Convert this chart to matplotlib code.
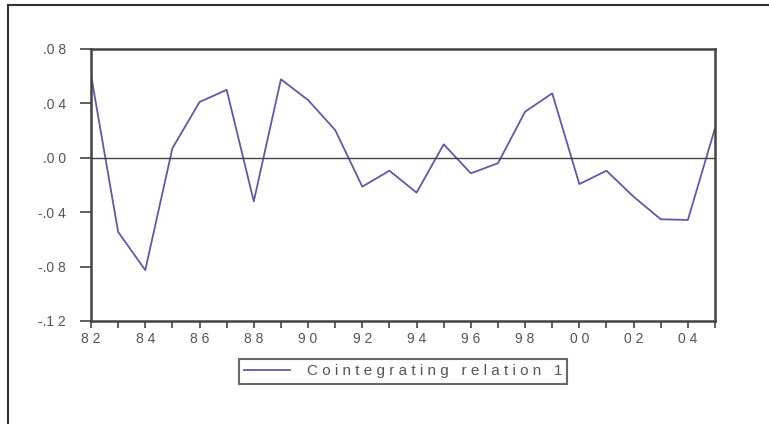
import matplotlib
matplotlib.use("Agg")
import matplotlib.pyplot as plt
from matplotlib.lines import Line2D

years = list(range(1982, 2006))
coint = [0.061, -0.0545, -0.0826, 0.007, 0.041, 0.050, -0.032, 0.0577,
         0.0425, 0.0204, -0.0212, -0.0095, -0.0256, 0.0099, -0.0114, -0.004,
         0.0339, 0.0474, -0.0193, -0.0095, -0.0286, -0.0452, -0.0457, 0.0217]
ytick_vals = [0.08, 0.04, 0.00, -0.04, -0.08, -0.12]
ytick_labels = [".0 8", ".0 4", ".0 0", "-.0 4", "-.0 8", "-.1 2"]
xtick_years = list(range(1982, 2006, 2))
xtick_labels = ["8 2", "8 4", "8 6", "8 8", "9 0", "9 2", "9 4", "9 6", "9 8", "0 0", "0 2", "0 4"]
legend_label = "C o i n t e g r a t i n g   r e l a t i o n   1"

plt.rcParams['font.family'] = ['Liberation Sans', 'DejaVu Sans']

W, H = 769, 424
fig = plt.figure(figsize=(W / 100, H / 100), dpi=100)
fig.patch.set_facecolor("white")

# outer frame (left and top visible)
fig.add_artist(Line2D([8 / W, 8 / W], [0, 1 - 5 / H], transform=fig.transFigure,
                      color="#333333", lw=1.5))
fig.add_artist(Line2D([8 / W, 1], [1 - 5 / H, 1 - 5 / H], transform=fig.transFigure,
                      color="#333333", lw=1.5))

ax = fig.add_axes([91 / W, 103 / H, 624 / W, 272 / H])
ax.plot(years, coint, color="#5c5ca6", lw=1.3)
ax.axhline(0, color="#444444", lw=1.0)
ax.set_xlim(1982, 2005)
ax.set_ylim(-0.12, 0.08)

for s in ax.spines.values():
    s.set_color("#444444")
    s.set_linewidth(1.8)

ax.set_yticks(ytick_vals)
ax.set_yticklabels(ytick_labels)
ax.set_xticks(years, minor=True)
ax.set_xticks(xtick_years)
ax.set_xticklabels(xtick_labels)
ax.tick_params(axis="y", direction="out", length=8, width=1.2, color="#444444",
               labelsize=10, labelcolor="#555555", pad=10)
ax.tick_params(axis="x", which="both", direction="out", length=5, width=1.2,
               color="#444444", labelsize=10, labelcolor="#555555", pad=3)

leg_handle = Line2D([], [], color="#5c5ca6", lw=1.3)
leg = fig.legend([leg_handle], [legend_label], loc="center",
                 bbox_to_anchor=(403 / W, 1 - 371.5 / H), frameon=True,
                 fancybox=False, fontsize=11, handlelength=3.0,
                 borderpad=0.35, borderaxespad=0, handletextpad=1.1)
leg.get_frame().set_edgecolor("#444444")
leg.get_frame().set_linewidth(1.5)
for t in leg.get_texts():
    t.set_color("#555555")

fig.savefig("out.png", dpi=100, facecolor="white")
